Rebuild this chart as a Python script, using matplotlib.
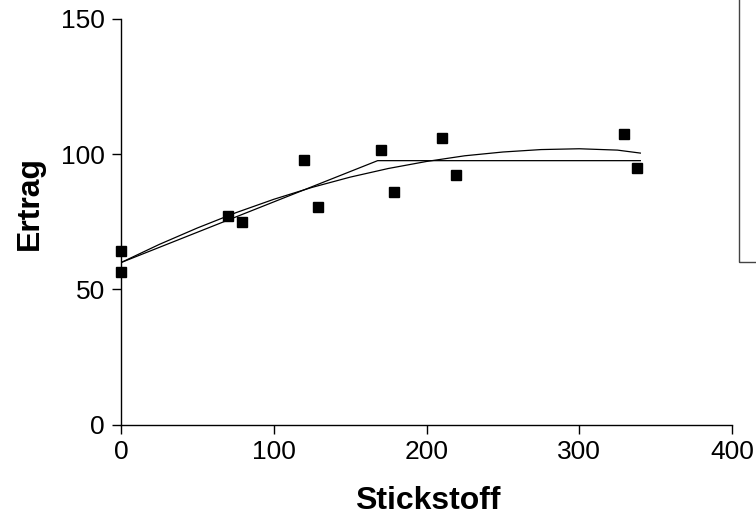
import matplotlib.pyplot as plt
from matplotlib.patches import Rectangle

plt.rcParams['font.family'] = ['Liberation Sans', 'DejaVu Sans']

# observed yields
stickstoff = [0, 0, 70, 79, 120, 129, 170, 179, 210, 219, 329, 338]
ertrag = [64.2, 56.5, 77, 74.8, 98, 80.3, 101.5, 86, 106, 92.3, 107.5, 94.7]

# quadratic fit curve
quad_x = [0, 25, 50, 75, 100, 125, 150, 175, 200, 225, 250, 275, 300, 325, 340]
quad_y = [59.9, 66.6, 72.7, 78.3, 83.3, 87.7, 91.5, 94.7, 97.3, 99.4, 100.8, 101.7, 102.0, 101.5, 100.4]

# linear-plateau fit
plat_x = [0, 168, 340]
plat_y = [59.9, 97.6, 97.6]

fig = plt.figure(figsize=(7.56, 5.22), dpi=100)
ax = fig.add_axes([121 / 756, 97.5 / 522, (732 - 121) / 756, (424.5 - 19) / 522])

ax.plot(quad_x, quad_y, color='black', lw=0.9, zorder=2)
ax.plot(plat_x, plat_y, color='black', lw=0.9, zorder=2)
ax.plot(stickstoff, ertrag, 's', color='black', markersize=6.7, zorder=3, clip_on=False)

ax.set_xlim(0, 400)
ax.set_ylim(0, 150)
ax.set_xticks([0, 100, 200, 300, 400])
ax.set_yticks([0, 50, 100, 150])
for s in ['top', 'right']:
    ax.spines[s].set_visible(False)
for s in ['left', 'bottom']:
    ax.spines[s].set_linewidth(1.0)
ax.tick_params(direction='out', length=6.5, width=1, labelsize=19, pad=5)

fig.text(30 / 756, 1 - 203 / 522, 'Ertrag', rotation=90, ha='center', va='center',
         fontsize=23, fontweight='bold')
fig.text(428 / 756, 1 - 509 / 522, 'Stickstoff', ha='center', va='baseline',
         fontsize=23, fontweight='bold')

# legend box cut off at the figure edge
fig.patches.append(Rectangle((739 / 756, 1 - 262 / 522), 0.1, 0.6,
                             transform=fig.transFigure, fill=False,
                             edgecolor='#444444', lw=1.0))

fig.savefig('out.png', dpi=100)
